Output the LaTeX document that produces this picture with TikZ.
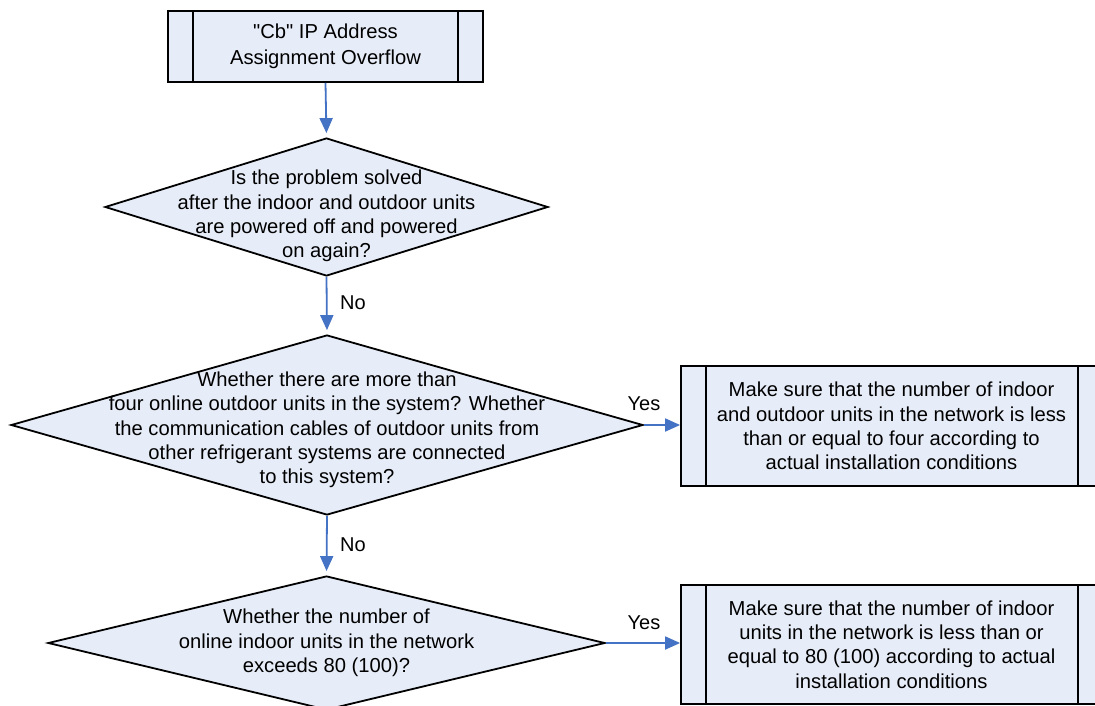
\documentclass[tikz,border=0pt]{standalone}
\usepackage{fontspec}
\setmainfont{Liberation Sans}[Ligatures=TeXOff]
\usetikzlibrary{shapes.geometric,arrows.meta,calc}
\definecolor{boxfill}{HTML}{E7EDF8}
\definecolor{arrowblue}{HTML}{4472C4}
\tikzset{
  procbox/.style={draw=black, line width=1.8pt, fill=boxfill, rectangle, inner sep=0pt},
  decision/.style={draw=black, line width=1.8pt, fill=boxfill, diamond, inner sep=0pt},
  txt/.style={font=\fontsize{20.2}{24.3}\selectfont, align=center, inner sep=0pt},
  flow/.style={draw=arrowblue, line width=1.8pt, -{Triangle[length=15pt,width=13pt]}},
  lbl/.style={font=\fontsize{20}{24}\selectfont, inner sep=0pt},
  sideline/.style={draw=black, line width=1.8pt}
}
\begin{document}
\begin{tikzpicture}[x=1pt,y=-1pt]
\useasboundingbox (0,0) rectangle (1095,706);
\clip (0,0) rectangle (1095,706);

% start box
\node[procbox, minimum width=315pt, minimum height=71pt] (start) at (325.5,46.5) {};
\draw[sideline] ($(start.north west)+(26,0)$) -- ($(start.south west)+(26,0)$);
\draw[sideline] ($(start.north east)+(-26,0)$) -- ($(start.south east)+(-26,0)$);
\node[txt, font=\fontsize{20.2}{26.5}\selectfont] (starttext) at (start.center) {"Cb" IP Address\\Assignment Overflow};

% decision 1
\node[decision, minimum width=443pt, minimum height=138pt] (q1) at (326.5,207) {};
\node[txt] (q1text) at (326.5,216) {Is the problem solved\\after the indoor and outdoor units\\are powered off and powered\\on again?};

% decision 2
\node[decision, minimum width=632pt, minimum height=180pt] (q2) at (327,425) {};
\node[txt] (q2text) at (327,430) {Whether there are more than\\four online outdoor units in the system? Whether\\the communication cables of outdoor units from\\other refrigerant systems are connected\\to this system?};

% decision 3
\node[decision, minimum width=557pt, minimum height=134pt] (q3) at (326.5,643) {};
\node[txt] (q3text) at (326.5,643) {Whether the number of\\online indoor units in the network\\exceeds 80 (100)?};

% action 1
\node[procbox, minimum width=421pt, minimum height=120pt] (act1) at (891.5,426) {};
\draw[sideline] ($(act1.north west)+(26,0)$) -- ($(act1.south west)+(26,0)$);
\draw[sideline] ($(act1.north east)+(-25,0)$) -- ($(act1.south east)+(-25,0)$);
\node[txt] (act1text) at (act1.center) {Make sure that the number of indoor\\and outdoor units in the network is less\\than or equal to four according to\\actual installation conditions};

% action 2
\node[procbox, minimum width=421pt, minimum height=119pt] (act2) at (891.5,644.5) {};
\draw[sideline] ($(act2.north west)+(26,0)$) -- ($(act2.south west)+(26,0)$);
\draw[sideline] ($(act2.north east)+(-25,0)$) -- ($(act2.south east)+(-25,0)$);
\node[txt] (act2text) at (act2.center) {Make sure that the number of indoor\\units in the network is less than or\\equal to 80 (100) according to actual\\installation conditions};

% connectors
\draw[flow, shorten >=4pt] (start.south) -- (q1.north);
\draw[flow, shorten >=4pt] (q1.south) -- (q2.north);
\draw[flow, shorten >=4pt] (q2.south) -- (q3.north);
\draw[flow] (q2.east) -- (act1.west |- q2.east);
\draw[flow] (q3.east) -- (act2.west |- q3.east);

% labels
\node[lbl] (no1) at (353,303) {No};
\node[lbl] (no2) at (353,545) {No};
\node[lbl] (yes1) at (644,404) {Yes};
\node[lbl] (yes2) at (644,623) {Yes};
\end{tikzpicture}
\end{document}
